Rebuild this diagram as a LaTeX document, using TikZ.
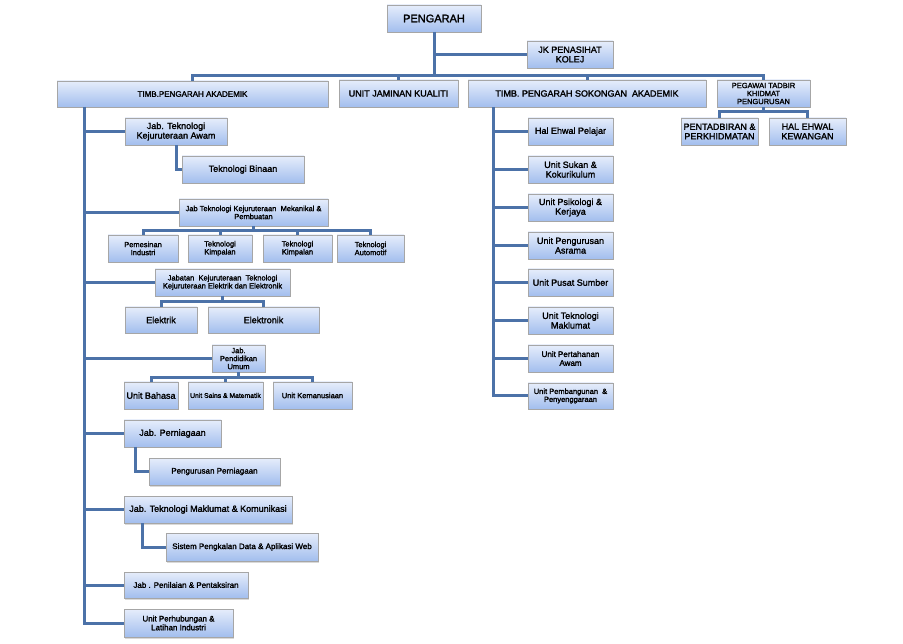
\documentclass[tikz,border=0pt]{standalone}
\usepackage{fontspec}
\newfontfamily\boxfont{Liberation Sans}[FakeBold=1.8]
\usetikzlibrary{shadows}
\definecolor{boxtop}{HTML}{E6EDFB}
\definecolor{boxbot}{HTML}{A2BEEE}
\definecolor{boxborder}{HTML}{A6A6A6}
\definecolor{linec}{HTML}{4C72A8}
\tikzset{
  bx/.style={draw=boxborder, line width=0.8pt, top color=boxtop, bottom color=boxbot,
    inner sep=0pt, outer sep=0pt, align=center,
    drop shadow={opacity=0.3, shadow xshift=1.2pt, shadow yshift=-1.5pt}},
  fA/.style={font=\boxfont\fontsize{11}{12}\selectfont},
  f9/.style={font=\boxfont\fontsize{9}{9.6}\selectfont},
  f8/.style={font=\boxfont\fontsize{8}{8.8}\selectfont},
  f75/.style={font=\boxfont\fontsize{7.5}{8}\selectfont},
  f7/.style={font=\boxfont\fontsize{6.8}{7.5}\selectfont},
  conn/.style={draw=linec, line width=3pt},
}
\newcommand\bx[6][f9]{\node[bx,#1, minimum width={(#5-#3)*1pt}, minimum height={(#6-#4)*1pt}] (#2) at ({(#3+#5)/2},{(#4+#6)/2})}
\begin{document}
\begin{tikzpicture}[x=1pt,y=-1pt]
\useasboundingbox (0,0) rectangle (903,644);
% top
\bx[fA]{P}{387}{5}{481}{32} {PENGARAH};
\bx{JK}{527}{41}{613}{68} {JK PENASIHAT\\KOLEJ};
\bx[f8]{TA}{57}{81}{328}{107} {TIMB.PENGARAH AKADEMIK};
\bx{JU}{339}{80}{458}{107} {UNIT JAMINAN KUALITI};
\bx{TS}{468}{80}{706}{107} {TIMB. PENGARAH SOKONGAN \ AKADEMIK};
\bx[f75]{PG}{717}{80}{810}{107} {PEGAWAI TADBIR\\KHIDMAT\\PENGURUSAN};
\bx{PD}{681}{118}{758}{145} {PENTADBIRAN \&\\PERKHIDMATAN};
\bx{HK}{769}{118}{846}{145} {HAL EHWAL\\KEWANGAN};
% left column
\bx{AW}{125}{118}{227}{145} {Jab. Teknologi\\Kejuruteraan Awam};
\bx{TB}{182}{156}{304}{183} {Teknologi Binaan};
\bx[f75]{MK}{179}{199}{328}{226} {Jab Teknologi Kejuruteraan \ Mekanikal \&\\Pembuatan};
\bx[f75]{PI}{108}{235}{178}{262} {Pemesinan\\Industri};
\bx[f75]{K1}{188}{235}{252}{262} {Teknologi\\Kimpalan};
\bx[f75]{K2}{263}{235}{332}{262} {Teknologi\\Kimpalan};
\bx[f75]{AU}{337}{235}{404}{262} {Teknologi\\Automotif};
\bx[f75]{EE}{155}{269}{290}{296} {Jabatan \ Kejuruteraan \ Teknologi\\Kejuruteraan Elektrik dan Elektronik};
\bx{EL}{125}{307}{197}{333} {Elektrik};
\bx{EK}{208}{307}{319}{333} {Elektronik};
\bx[f75]{PU}{212}{345}{265}{372} {Jab.\\Pendidikan\\Umum};
\bx{UB}{124}{382}{178}{409} {Unit Bahasa};
\bx[f7]{US}{188}{382}{263}{409} {Unit Sains \& Matematik};
\bx[f75]{UK}{273}{382}{352}{409} {Unit Kemanusiaan};
\bx{PN}{124}{420}{221}{447} {Jab. Perniagaan};
\bx[f8]{PP}{149}{458}{280}{485} {Pengurusan Perniagaan};
\bx{TM}{124}{496}{292}{523} {Jab. Teknologi Maklumat \& Komunikasi};
\bx[f8]{SP}{166}{533}{318}{561} {Sistem Pengkalan Data \& Aplikasi Web};
\bx[f8]{PT}{124}{572}{248}{598} {Jab . Penilaian \& Pentaksiran};
\bx[f8]{PH}{124}{609}{233}{637} {Unit Perhubungan \&\\Latihan Industri};
% middle column
\bx{HE}{528}{118}{613}{145} {Hal Ehwal Pelajar};
\bx{SK}{528}{156}{613}{183} {Unit Sukan \&\\Kokurikulum};
\bx{PS}{528}{194}{613}{221} {Unit Psikologi \&\\Kerjaya};
\bx{AS}{528}{232}{613}{259} {Unit Pengurusan\\Asrama};
\bx{SU}{528}{269}{613}{296} {Unit Pusat Sumber};
\bx{TK}{528}{307}{613}{334} {Unit Teknologi\\Maklumat};
\bx[f8]{PA}{528}{345}{613}{372} {Unit Pertahanan\\Awam};
\bx[f75]{PB}{528}{383}{613}{409} {Unit Pembangunan \ \&\\Penyenggaraan};
% connectors top
\coordinate (bus) at (0,76);
\draw[conn] (P.south) -- (P.south |- bus);
\draw[conn] (TA.north) |- (PG.north |- bus) -- (PG.north);
\draw[conn] (JU.north) -- (JU.north |- bus);
\draw[conn] (TS.north) -- (TS.north |- bus);
\draw[conn] (P.south |- JK.west) -- (JK.west);
\draw[conn] (PG.south) -- ++(0,5) coordinate (pgb);
\draw[conn] (PD.north) |- (HK.north |- pgb) -- (HK.north);
% left trunk
\coordinate (tl) at (84,107);
\draw[conn] (tl) |- (PH.west);
\foreach \n in {AW,MK,EE,PU,PN,TM,PT} \draw[conn] (tl |- \n.west) -- (\n.west);
\draw[conn] (AW.south) |- (TB.west);
\draw[conn] (MK.south) -- ++(0,5) coordinate (mkb);
\draw[conn] (PI.north) |- (AU.north |- mkb) -- (AU.north);
\draw[conn] (K1.north) -- (K1.north |- mkb);
\draw[conn] (K2.north) -- (K2.north |- mkb);
\draw[conn] (EE.south) -- ++(0,6) coordinate (eeb);
\draw[conn] (EL.north) |- (EK.north |- eeb) -- (EK.north);
\draw[conn] (PU.south) -- ++(0,6) coordinate (pub);
\draw[conn] (UB.north) |- (UK.north |- pub) -- (UK.north);
\draw[conn] (US.north) -- (US.north |- pub);
\draw[conn] ([xshift=11pt]PN.south west) |- (PP.west);
\draw[conn] ([xshift=18pt]TM.south west) |- (SP.west);
% middle trunk
\coordinate (tm) at (493,107);
\draw[conn] (tm) |- (PB.west);
\foreach \n in {HE,SK,PS,AS,SU,TK,PA} \draw[conn] (tm |- \n.west) -- (\n.west);
\end{tikzpicture}
\end{document}
